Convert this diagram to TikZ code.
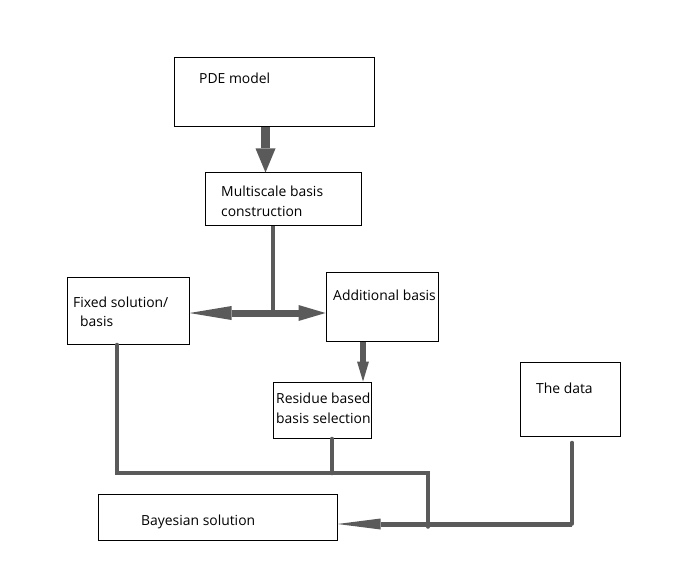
\documentclass[tikz,border=0pt]{standalone}
\usepackage{fontspec}
\setmainfont{Open Sans}
\usetikzlibrary{arrows.meta,positioning}
\definecolor{flowgray}{RGB}{90,90,90}

\begin{document}
\begin{tikzpicture}[x=1pt,y=-1pt,
  box/.style={draw,line width=1pt,rectangle,inner sep=0pt},
  txt/.style={anchor=west,align=left,inner sep=0pt,font=\fontsize{13.9}{19.5}\selectfont},
  pipe/.style={draw=flowgray,line width=3.5pt,line cap=round},
  fat/.style={draw=flowgray,fill=flowgray}]
\useasboundingbox (0,0) rectangle (696,564);
\node[box,minimum width=200pt,minimum height=69pt] (pde) at (274,92.5) {};
\node[box,minimum width=156pt,minimum height=53pt] (multi) at (283,199.5) {};
\node[box,minimum width=122pt,minimum height=67pt] (fixed) at (128,310.5) {};
\node[box,minimum width=112pt,minimum height=69pt] (add) at (382,306.5) {};
\node[box,minimum width=98pt,minimum height=56pt] (res) at (322,410) {};
\node[box,minimum width=100pt,minimum height=74pt] (data) at (570,399) {};
\node[box,minimum width=239pt,minimum height=46pt] (bayes) at (217.5,517) {};
\node[txt] (pdeText) at (199,78) {PDE model};
\node[txt] (multiText) at (221,201.5) {Multiscale basis\\construction};
\node[txt] (fixedText) at (73,312) {Fixed solution/\\\hspace{7pt}basis};
\node[txt] (addText) at (333,295) {Additional basis};
\node[txt] (resText) at (276,408.5) {Residue based\\basis selection};
\node[txt] (dataText) at (536,388) {The data};
\node[txt] (bayesText) at (141,522) {Bayesian solution};
\coordinate (split) at (273,313);
\coordinate (join) at (428,473);
\coordinate (corner) at (572,524);
\draw[fat,line width=9pt,-{Triangle[length=24pt,width=20pt,line width=0pt]}] ([xshift=-8.5pt]pde.south) -- ([xshift=-17.5pt]multi.north);
\draw[pipe,line width=4pt,line cap=butt] ([xshift=-10pt]multi.south) -- (split);
\draw[fat,line width=7pt,{Triangle[length=42pt,width=14pt,line width=0pt]}-{Triangle[length=27pt,width=16pt,line width=0pt]}] ([yshift=-2.5pt]fixed.east) -- ([yshift=-6.5pt]add.west);
\draw[fat,line width=6pt,-{Triangle[length=20pt,width=12pt,line width=0pt]}] ([xshift=-19pt]add.south) -- ([xshift=41pt]res.north);
\draw[pipe] ([xshift=-11pt]fixed.south) |- (join) -- ++(0,54);
\draw[pipe] ([xshift=10pt]res.south) -- ++(0,35);
\draw[pipe] ([xshift=2pt,yshift=-6pt]data.south) -- (corner);
\draw[fat,line width=5pt,-{Triangle[length=43pt,width=11pt,line width=0pt]}] (corner) -- ([yshift=-7pt]bayes.east);
\end{tikzpicture}
\end{document}
